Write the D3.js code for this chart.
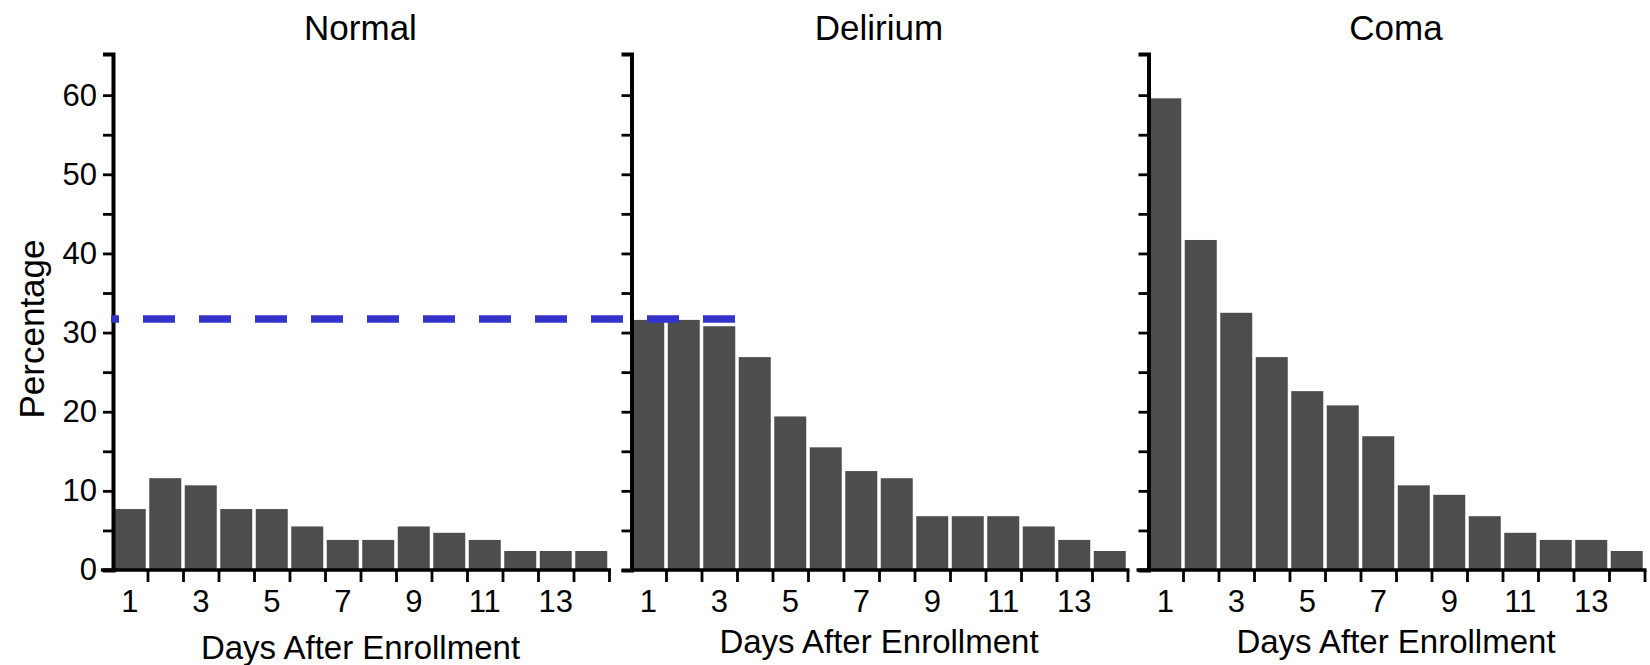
<!DOCTYPE html>
<html>
<head>
<meta charset="utf-8">
<script src="https://cdn.jsdelivr.net/npm/d3@7"></script>
<style>
  body { margin: 0; background: #fff; }
  text { font-family: "Liberation Sans", Arial, sans-serif; fill: #000; }
</style>
</head>
<body>
<div class="chart"></div>
<script>
// Data
var days = [1, 2, 3, 4, 5, 6, 7, 8, 9, 10, 11, 12, 13, 14];
var dayLabels = [1, 3, 5, 7, 9, 11, 13];
var panelTitles = ["Normal", "Delirium", "Coma"];
var normalPct = [7.7, 11.6, 10.7, 7.7, 7.7, 5.5, 3.8, 3.8, 5.5, 4.7, 3.8, 2.4, 2.4, 2.4];
var deliriumPct = [31.6, 31.6, 30.8, 26.9, 19.4, 15.5, 12.5, 11.6, 6.8, 6.8, 6.8, 5.5, 3.8, 2.4];
var comaPct = [59.6, 41.7, 32.5, 26.9, 22.6, 20.8, 16.9, 10.7, 9.5, 6.8, 4.7, 3.8, 3.8, 2.4];
var yTicks = [0, 5, 10, 15, 20, 25, 30, 35, 40, 45, 50, 55, 60];
var refValue = 31.7;

var seriesList = [normalPct, deliriumPct, comaPct];

// SVG size, panel layout
var svgWidth = 1650;
var svgHeight = 665;
var panelLefts = [112, 630.5, 1147.5];
var panelWidth = 497;
var plotBottom = 570;
var plotTop = 54;
var yMax = 65.2;

var svg = d3.select(".chart")
    .append("svg")
    .attr("width", svgWidth)
    .attr("height", svgHeight);

// shared y scale
var yScale = d3.scaleLinear()
    .domain([0, yMax])
    .range([plotBottom, plotTop]);

var xScales = [];

panelTitles.forEach(function(title, i) {
    var left = panelLefts[i];
    var xScale = d3.scaleLinear()
        .domain([0.5, days.length + 0.5])
        .range([left, left + panelWidth]);
    xScales.push(xScale);
    var step = xScale(1.5) - xScale(0.5);

    var g = svg.append("g");

    // bars
    g.selectAll("rect")
        .data(seriesList[i])
        .enter()
        .append("rect")
        .attr("x", (d, j) => xScale(days[j] - 0.5) + 1.75)
        .attr("width", step - 3.5)
        .attr("y", d => yScale(d))
        .attr("height", d => plotBottom - yScale(d))
        .attr("fill", "#4d4d4d");

    // y axis (labels only on the first panel)
    var leftAxis = d3.axisLeft(yScale)
        .tickValues(yTicks)
        .tickSize(10)
        .tickSizeOuter(10)
        .tickPadding(6)
        .tickFormat(d => (i === 0 && d % 10 === 0) ? d : "");

    var yAxisG = g.append("g")
        .attr("transform", `translate(${left + 1}, 0)`)
        .call(leftAxis);
    yAxisG.select(".domain").attr("stroke-width", 4).attr("stroke", "#000");
    yAxisG.selectAll(".tick line").attr("stroke-width", 2.8).attr("stroke", "#000");
    yAxisG.selectAll(".tick text")
        .style("font-size", "31px")
        .attr("fill", "#000");

    // x axis: ticks at bar boundaries
    var bottomAxis = d3.axisBottom(xScale)
        .tickValues(days.map(d => d + 0.5))
        .tickSize(12)
        .tickSizeOuter(0)
        .tickFormat("");

    var xAxisG = g.append("g")
        .attr("transform", `translate(0, ${plotBottom})`)
        .call(bottomAxis);
    xAxisG.select(".domain").remove();
    xAxisG.selectAll(".tick line").attr("stroke-width", 2.8).attr("stroke", "#000");

    // axis base line (first and last panel stick out past the y axis)
    var lineStart = (i === 1) ? left + 1 : left - 11;
    g.append("line")
        .attr("x1", lineStart)
        .attr("x2", xScale(days.length + 0.5) + 2)
        .attr("y1", plotBottom)
        .attr("y2", plotBottom)
        .attr("stroke", "#000")
        .attr("stroke-width", 3.5);

    // day labels under the odd days
    g.selectAll(".day-label")
        .data(dayLabels)
        .enter()
        .append("text")
        .attr("class", "day-label")
        .attr("x", d => xScale(d))
        .attr("y", 612)
        .attr("text-anchor", "middle")
        .style("font-size", "31px")
        .text(d => d);

    // panel title
    g.append("text")
        .attr("x", left + panelWidth / 2)
        .attr("y", 40)
        .attr("text-anchor", "middle")
        .style("font-size", "35px")
        .text(title);

    // x axis title
    g.append("text")
        .attr("x", left + panelWidth / 2)
        .attr("y", i === 0 ? 659 : 653)
        .attr("text-anchor", "middle")
        .style("font-size", "33px")
        .text("Days After Enrollment");
});

// y axis title
svg.append("text")
    .attr("transform", `translate(44, 329) rotate(-90)`)
    .attr("text-anchor", "middle")
    .style("font-size", "35px")
    .text("Percentage");

// blue dashed reference line at delirium day 1-3 level
svg.append("line")
    .attr("x1", xScales[0](0.5) - 1)
    .attr("x2", xScales[1](3.5))
    .attr("y1", yScale(refValue))
    .attr("y2", yScale(refValue))
    .attr("stroke", "#3333cc")
    .attr("stroke-width", 7.5)
    .attr("stroke-dasharray", "32,24")
    .attr("stroke-dashoffset", 24);
</script>
</body>
</html>
